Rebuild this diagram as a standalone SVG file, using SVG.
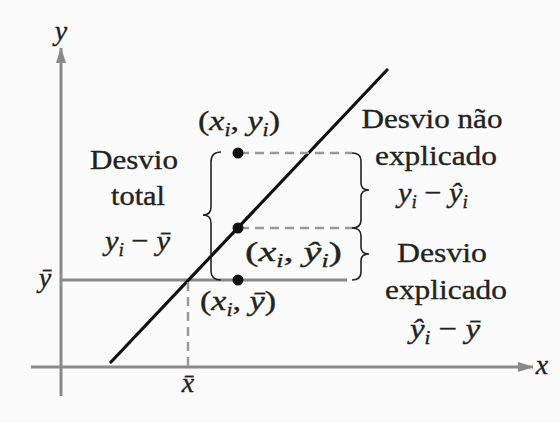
<svg xmlns="http://www.w3.org/2000/svg" width="560" height="423" viewBox="0 0 560 423">
<defs>
<style>
.ax{stroke:#8a8a8a;stroke-width:3;fill:none}
.reg{stroke:#111;stroke-width:3.2;fill:none;stroke-linecap:round}
.dash{stroke:#999;stroke-width:2.5;fill:none;stroke-dasharray:9 6}
.br{stroke:#222;stroke-width:1.6;fill:none}
.t{font-family:"Liberation Serif","Times New Roman",serif;font-size:28px;fill:#222;stroke:#222;stroke-width:0.35}
.m{font-family:"Liberation Serif","Times New Roman",serif;font-size:28px;fill:#222;stroke:#222;stroke-width:0.35}
.it{font-style:italic}
.s{font-size:18px;font-style:italic}
.pt{fill:#111}
</style>
<marker id="ah" markerWidth="16" markerHeight="10" refX="15" refY="5" orient="auto" markerUnits="userSpaceOnUse">
<path d="M0,0 L16,5 L0,10 Z" fill="#8a8a8a"/>
</marker>
</defs>
<rect width="560" height="423" fill="#fbfbfb"/>
<g id="axes">
<line class="ax" x1="61" y1="396" x2="61" y2="48" marker-end="url(#ah)"/>
<line class="ax" x1="31" y1="367" x2="533" y2="367" marker-end="url(#ah)"/>
<line class="ax" x1="61" y1="280" x2="347" y2="280"/>
<text class="m it" x="61" y="40" text-anchor="middle" font-size="24">y</text>
<text class="m it" x="542" y="374" text-anchor="middle" font-size="24">x</text>
<text class="m it" x="45" y="287" text-anchor="middle" font-size="24">ȳ</text>
<text class="m it" x="188" y="392" text-anchor="middle" font-size="24">x̄</text>
</g>
<g id="connectors">
<line class="reg" x1="111" y1="362" x2="387" y2="70"/>
<line class="dash" x1="188" y1="282" x2="188" y2="366"/>
<line class="dash" x1="240" y1="153" x2="352" y2="153"/>
<line class="dash" x1="240" y1="228" x2="352" y2="228"/>
<path class="br" d="M221,152 Q211,152 211,162 L211,207 Q211,215 203,215 Q211,215 211,223 L211,271 Q211,280 221,280"/>
<path class="br" d="M352,153 Q361,153 361,161 L361,183 Q361,190 369,190 Q361,190 361,197 L361,220 Q361,228 352,228"/>
<path class="br" d="M352,228 Q361,228 361,236 L361,247 Q361,254 369,254 Q361,254 361,261 L361,272 Q361,280 352,280"/>
</g>
<g id="p1">
<circle class="pt" cx="238" cy="153" r="5.5"/>
<text class="m" x="198" y="130" textLength="82" lengthAdjust="spacingAndGlyphs">(<tspan class="it">x</tspan><tspan class="s" dy="6">i</tspan><tspan dy="-6">, </tspan><tspan class="it">y</tspan><tspan class="s" dy="6">i</tspan><tspan dy="-6">)</tspan></text>
</g>
<g id="p2">
<circle class="pt" cx="238" cy="228" r="5.5"/>
<text class="m" x="245" y="261" textLength="97" lengthAdjust="spacingAndGlyphs">(<tspan class="it">x</tspan><tspan class="s" dy="6">i</tspan><tspan dy="-6">, </tspan><tspan class="it">ŷ</tspan><tspan class="s" dy="6">i</tspan><tspan dy="-6">)</tspan></text>
</g>
<g id="p3">
<circle class="pt" cx="238" cy="280" r="5.5"/>
<text class="m" x="200" y="310" textLength="76" lengthAdjust="spacingAndGlyphs">(<tspan class="it">x</tspan><tspan class="s" dy="6">i</tspan><tspan dy="-6">, </tspan><tspan class="it">ȳ</tspan>)</text>
</g>
<g id="total">
<text class="t" x="134" y="169" text-anchor="middle" textLength="88" lengthAdjust="spacingAndGlyphs">Desvio</text>
<text class="t" x="138" y="205" text-anchor="middle" textLength="54" lengthAdjust="spacingAndGlyphs">total</text>
<text class="m" x="105" y="250" textLength="65" lengthAdjust="spacingAndGlyphs"><tspan class="it">y</tspan><tspan class="s" dy="6">i</tspan><tspan dy="-6"> − </tspan><tspan class="it">ȳ</tspan></text>
</g>
<g id="unexplained">
<text class="t" x="432" y="128" text-anchor="middle" textLength="141" lengthAdjust="spacingAndGlyphs">Desvio não</text>
<text class="t" x="436" y="165" text-anchor="middle" textLength="122" lengthAdjust="spacingAndGlyphs">explicado</text>
<text class="m" x="398" y="202" textLength="70" lengthAdjust="spacingAndGlyphs"><tspan class="it">y</tspan><tspan class="s" dy="6">i</tspan><tspan dy="-6"> − </tspan><tspan class="it">ŷ</tspan><tspan class="s" dy="6">i</tspan></text>
</g>
<g id="explained">
<text class="t" x="442" y="262" text-anchor="middle" textLength="90" lengthAdjust="spacingAndGlyphs">Desvio</text>
<text class="t" x="446" y="299" text-anchor="middle" textLength="122" lengthAdjust="spacingAndGlyphs">explicado</text>
<text class="m" x="410" y="338" textLength="70" lengthAdjust="spacingAndGlyphs"><tspan class="it">ŷ</tspan><tspan class="s" dy="6">i</tspan><tspan dy="-6"> − </tspan><tspan class="it">ȳ</tspan></text>
</g>
</svg>
